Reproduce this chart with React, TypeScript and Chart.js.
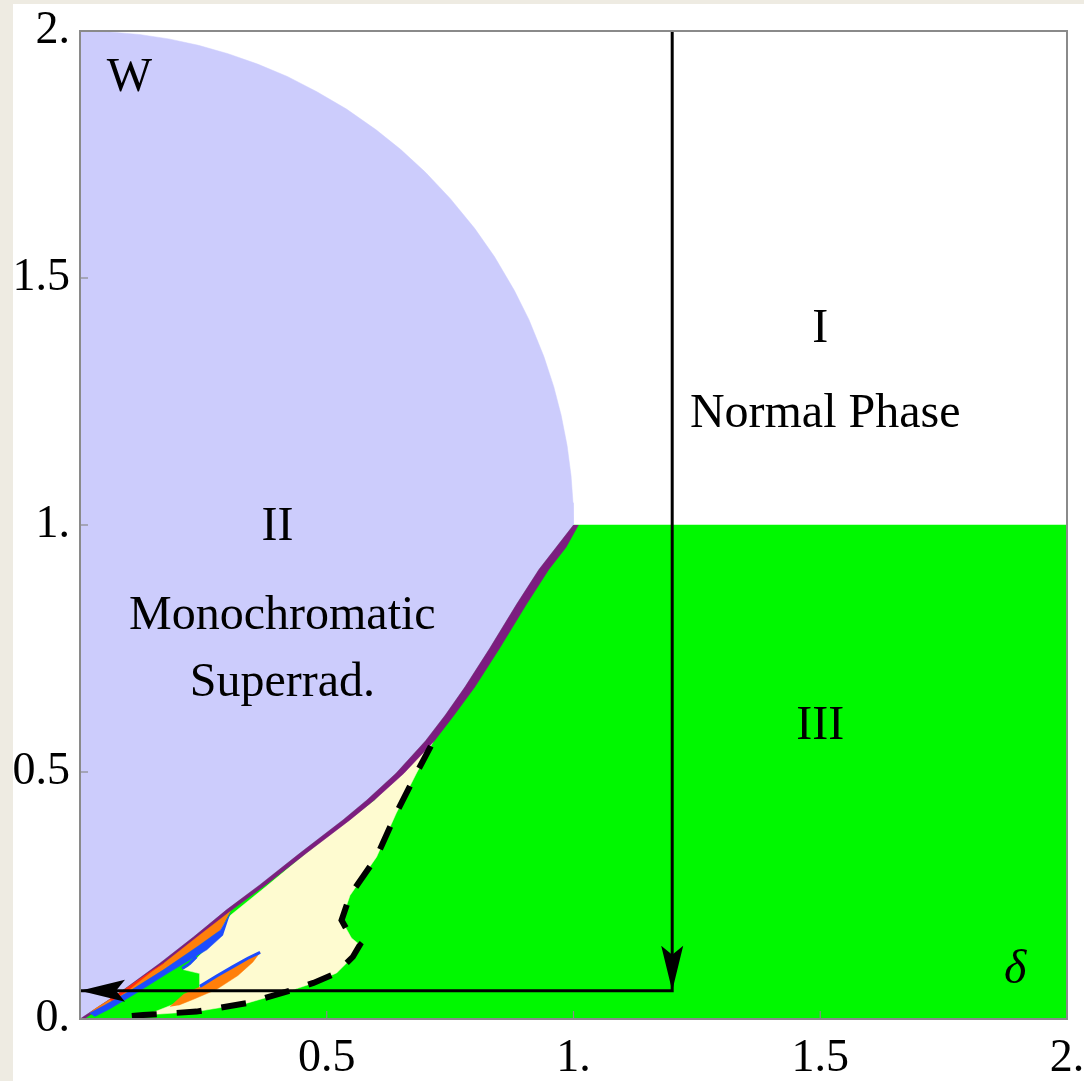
import React, { useEffect, useRef } from 'react';
import { Chart, registerables } from 'chart.js';

Chart.register(...registerables);

// ---- axis ticks ----
const tickValues = [0, 0.5, 1, 1.5, 2];
const xTickLabels = ['', '0.5', '1.', '1.5', '2.'];
const yTickLabels = ['0.', '0.5', '1.', '1.5', '2.'];

// ---- region III (green) ----
const greenDelta = [0, 2, 2, 0];
const greenW = [0, 0, 1, 1];

// ---- region II arc (lavender upper boundary) ----
const arcDelta = [0, 0.06, 0.12, 0.18, 0.24, 0.3, 0.36, 0.42, 0.48, 0.54, 0.6, 0.65, 0.7, 0.75, 0.8, 0.84, 0.88, 0.91, 0.94, 0.96, 0.975, 0.987, 0.995, 0.999, 1.0];
const arcW = [2, 1.998, 1.993, 1.984, 1.971, 1.954, 1.933, 1.908, 1.877, 1.842, 1.8, 1.76, 1.714, 1.661, 1.6, 1.543, 1.475, 1.415, 1.341, 1.28, 1.222, 1.161, 1.1, 1.045, 1.0];

// ---- purple band (upper & lower edge) ----
const purpleUpperDelta = [1.0, 0.965, 0.93, 0.885, 0.83, 0.78, 0.74, 0.7, 0.64, 0.581, 0.533, 0.446, 0.365, 0.297, 0.23, 0.162, 0.08, 0.0];
const purpleUpperW = [1.0, 0.955, 0.91, 0.84, 0.75, 0.672, 0.615, 0.563, 0.497, 0.443, 0.403, 0.336, 0.272, 0.221, 0.166, 0.113, 0.053, 0.0];
const purpleLowerDelta = [1.01, 0.985, 0.95, 0.905, 0.85, 0.8, 0.758, 0.718, 0.656, 0.596, 0.547, 0.459, 0.377, 0.308, 0.24, 0.17, 0.088, 0.008];
const purpleLowerW = [1.0, 0.955, 0.91, 0.84, 0.75, 0.672, 0.615, 0.563, 0.497, 0.443, 0.403, 0.336, 0.272, 0.221, 0.166, 0.113, 0.053, 0.0];

// ---- cream region ----
const creamDelta = [0.74, 0.597, 0.459, 0.377, 0.305, 0.29, 0.257, 0.219, 0.209, 0.243, 0.243, 0.223, 0.19, 0.15, 0.13,
  0.236, 0.338, 0.432, 0.473, 0.52, 0.553, 0.567, 0.55, 0.53, 0.547, 0.601, 0.641, 0.682, 0.723];
const creamW = [0.6, 0.443, 0.336, 0.268, 0.21, 0.19, 0.143, 0.106, 0.1, 0.092, 0.062, 0.052, 0.03, 0.014, 0.008,
  0.015, 0.032, 0.059, 0.073, 0.093, 0.126, 0.15, 0.164, 0.2, 0.25, 0.328, 0.417, 0.498, 0.575];

// ---- small bands near the origin ----
const orangeDelta = [0.305, 0.24, 0.17, 0.1, 0.055, 0.03, 0.02, 0.05, 0.1, 0.17, 0.24, 0.285];
const orangeW = [0.218, 0.168, 0.113, 0.066, 0.036, 0.02, 0.012, 0.028, 0.056, 0.1, 0.148, 0.18];
const redDelta = [0.06, 0.1, 0.14, 0.17, 0.15, 0.1, 0.065];
const redW = [0.04, 0.066, 0.094, 0.113, 0.1, 0.06, 0.036];
const blueDelta = [0.305, 0.285, 0.24, 0.17, 0.1, 0.05, 0.02, 0.03, 0.06, 0.11, 0.18, 0.257, 0.29];
const blueW = [0.215, 0.18, 0.148, 0.1, 0.056, 0.028, 0.012, 0.005, 0.02, 0.05, 0.094, 0.14, 0.17];
const blueBitDelta = [0.207, 0.222, 0.236];
const blueBitW = [0.102, 0.112, 0.126];
const leafDelta = [0.182, 0.21, 0.243, 0.277, 0.31, 0.34, 0.365, 0.35, 0.32, 0.277, 0.23, 0.2];
const leafW = [0.025, 0.05, 0.065, 0.086, 0.105, 0.122, 0.135, 0.115, 0.088, 0.06, 0.04, 0.028];
const leafEdgeDelta = [0.243, 0.277, 0.31, 0.34, 0.365];
const leafEdgeW = [0.066, 0.087, 0.106, 0.123, 0.135];

// ---- dashed boundary ----
const dashDelta = [0.105, 0.128, 0.236, 0.338, 0.432, 0.473, 0.52, 0.553, 0.567, 0.55, 0.53, 0.547, 0.601, 0.641, 0.682, 0.723];
const dashW = [0.006, 0.008, 0.015, 0.032, 0.059, 0.073, 0.093, 0.126, 0.15, 0.164, 0.2, 0.25, 0.328, 0.417, 0.498, 0.575];

// ---- arrow path ----
const arrowDelta = [1.2, 1.2, 0.0];
const arrowW = [2.0, 0.057, 0.057];

// ---- text labels ----
const labelTexts = ['W', 'I', 'Normal Phase', 'II', 'Monochromatic', 'Superrad.', 'III', 'δ'];
const labelDelta = [0.1, 1.5, 1.51, 0.4, 0.41, 0.41, 1.5, 1.895];
const labelW = [1.905, 1.395, 1.223, 0.996, 0.814, 0.68, 0.593, 0.099];
const labelItalic = [false, false, false, false, false, false, false, true];

const pts = (xs: number[], ys: number[]) => xs.map((x, i) => ({ x, y: ys[i] }));

const SERIF = '"Liberation Serif", "Times New Roman", serif';

export default function App() {
  const ref = useRef<HTMLCanvasElement | null>(null);

  useEffect(() => {
    const canvas = ref.current;
    if (!canvas) return;

    const lavenderPts = [{ x: 0, y: 0 }, ...pts(arcDelta, arcW), ...pts(purpleUpperDelta, purpleUpperW)];
    const purplePts = [...pts(purpleUpperDelta, purpleUpperW), ...pts(purpleLowerDelta, purpleLowerW).reverse()];

    const poly = (data: any[], color: string, order: number) => ({
      data,
      showLine: true,
      fill: 'shape',
      backgroundColor: color,
      borderColor: color,
      borderWidth: 0.5,
      pointRadius: 0,
      tension: 0,
      order,
    });

    const bgPlugin = {
      id: 'bg',
      beforeDraw(chart: any) {
        const { ctx, width, height } = chart;
        ctx.save();
        ctx.fillStyle = '#eeebe2';
        ctx.fillRect(0, 0, width, height);
        ctx.fillStyle = '#ffffff';
        ctx.fillRect(13, 4, width - 13, height - 4);
        ctx.restore();
      },
    };

    const overlayPlugin = {
      id: 'overlay',
      afterDatasetsDraw(chart: any) {
        const { ctx, chartArea, scales } = chart;
        const xs = scales.x;
        const ys = scales.y;
        ctx.save();
        // arrow heads
        const head = (fx: number, fy: number, tx: number, ty: number) => {
          const ang = Math.atan2(ty - fy, tx - fx);
          const len = 45;
          const hw = 11;
          const c = Math.cos(ang);
          const s = Math.sin(ang);
          ctx.beginPath();
          ctx.moveTo(tx, ty);
          ctx.lineTo(tx - len * c - hw * s, ty - len * s + hw * c);
          ctx.lineTo(tx - 0.8 * len * c, ty - 0.8 * len * s);
          ctx.lineTo(tx - len * c + hw * s, ty - len * s - hw * c);
          ctx.closePath();
          ctx.fillStyle = '#000';
          ctx.fill();
        };
        for (let i = 1; i < arrowDelta.length; i++) {
          head(
            xs.getPixelForValue(arrowDelta[i - 1]), ys.getPixelForValue(arrowW[i - 1]),
            xs.getPixelForValue(arrowDelta[i]), ys.getPixelForValue(arrowW[i])
          );
        }
        // frame
        ctx.strokeStyle = '#8a8a8a';
        ctx.lineWidth = 2;
        ctx.strokeRect(chartArea.left, chartArea.top, chartArea.right - chartArea.left, chartArea.bottom - chartArea.top);
        // inward ticks
        ctx.lineWidth = 1.2;
        tickValues.forEach((v) => {
          if (v === 0 || v === 2) return;
          const px = xs.getPixelForValue(v);
          ctx.beginPath();
          ctx.moveTo(px, chartArea.bottom);
          ctx.lineTo(px, chartArea.bottom - 8);
          ctx.stroke();
          const py = ys.getPixelForValue(v);
          ctx.beginPath();
          ctx.moveTo(chartArea.left, py);
          ctx.lineTo(chartArea.left + 8, py);
          ctx.stroke();
        });
        // labels
        ctx.fillStyle = '#000';
        ctx.textAlign = 'center';
        ctx.textBaseline = 'middle';
        labelTexts.forEach((t, i) => {
          ctx.font = (labelItalic[i] ? 'italic ' : '') + '48px ' + SERIF;
          ctx.fillText(t, xs.getPixelForValue(labelDelta[i]), ys.getPixelForValue(labelW[i]));
        });
        ctx.restore();
      },
    };

    const zeroPad = (s: any) => {
      s.paddingLeft = 0;
      s.paddingRight = 0;
      s.paddingTop = 0;
      s.paddingBottom = 0;
    };

    const chart = new Chart(canvas, {
      type: 'scatter',
      data: {
        datasets: [
          poly(pts(greenDelta, greenW), '#00f800', 20),
          poly(pts(creamDelta, creamW), '#fefbd0', 19),
          poly(lavenderPts, '#ccccfc', 18),
          poly(purplePts, '#7c1d80', 17),
          poly(pts(orangeDelta, orangeW), '#ff7f0a', 16),
          poly(pts(redDelta, redW), '#ff2a10', 15),
          poly(pts(blueDelta, blueW), '#1c4cff', 14),
          poly(pts(leafDelta, leafW), '#ff7f0a', 13),
          {
            data: pts(leafEdgeDelta, leafEdgeW),
            showLine: true, borderColor: '#1c4cff', borderWidth: 3, pointRadius: 0, fill: false, order: 12,
          },
          {
            data: pts(blueBitDelta, blueBitW),
            showLine: true, borderColor: '#1c4cff', borderWidth: 3, pointRadius: 0, fill: false, order: 11,
          },
          {
            data: pts(dashDelta, dashW),
            showLine: true, borderColor: '#000', borderWidth: 6, borderDash: [25, 20], borderCapStyle: 'butt',
            pointRadius: 0, fill: false, tension: 0, order: 10,
          },
          {
            data: pts(arrowDelta, arrowW),
            showLine: true, borderColor: '#000', borderWidth: 3, borderJoinStyle: 'miter',
            pointRadius: 0, fill: false, tension: 0, order: 9,
          },
        ] as any,
      },
      options: {
        responsive: false,
        animation: false,
        events: [],
        layout: { padding: { top: 31, right: 17, left: 0, bottom: 0 } },
        plugins: { legend: { display: false }, tooltip: { enabled: false }, title: { display: false } },
        scales: {
          x: {
            type: 'linear',
            min: 0,
            max: 2,
            grid: { display: false, drawTicks: false },
            border: { display: false },
            afterFit: (s: any) => { s.height = 62; zeroPad(s); },
            ticks: {
              stepSize: 0.5,
              padding: 12,
              color: '#000',
              maxRotation: 0,
              autoSkip: false,
              font: { family: SERIF, size: 46 },
              callback: (_v: any, i: number) => xTickLabels[i],
            },
          },
          y: {
            type: 'linear',
            min: 0,
            max: 2,
            grid: { display: false, drawTicks: false },
            border: { display: false },
            afterFit: (s: any) => { s.width = 80; zeroPad(s); },
            ticks: {
              stepSize: 0.5,
              padding: 10,
              color: '#000',
              autoSkip: false,
              font: { family: SERIF, size: 46 },
              callback: (_v: any, i: number) => yTickLabels[i],
            },
          },
        },
      } as any,
      plugins: [bgPlugin, overlayPlugin],
    });

    return () => chart.destroy();
  }, []);

  return (
    <canvas
      ref={ref}
      width={1084}
      height={1081}
      style={{ position: 'fixed', left: 0, top: 0, width: 1084, height: 1081, display: 'block' }}
    />
  );
}
